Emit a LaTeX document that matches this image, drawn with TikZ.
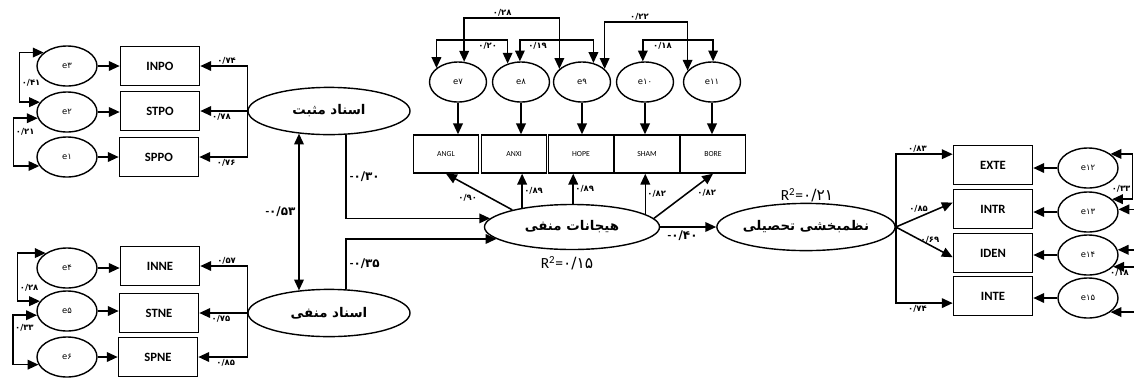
\documentclass[tikz,border=0pt]{standalone}
\usepackage{fontspec}
\setmainfont{Carlito}
\newfontfamily\fa[Script=Arabic]{DejaVu Sans}
\TeXXeTstate=1
\usetikzlibrary{arrows.meta,shapes.geometric}
\newcommand\mns{{\normalfont\bfseries -}}

\begin{document}
\begin{tikzpicture}[
    x=0.025cm, y=-0.025cm,
    effect/.style={-{Triangle[length=2.7mm,width=2.4mm]}, line width=1.1pt},
    corr/.style={{Triangle[length=2.7mm,width=2.4mm]}-{Triangle[length=2.7mm,width=2.4mm]}, line width=1.1pt},
    err/.style={ellipse, draw, line width=1pt, minimum width=1.5cm, minimum height=1cm, inner sep=0pt, font=\fa\fontsize{6}{7}\selectfont},
    toperr/.style={err, minimum width=1.425cm},
    ind/.style={rectangle, draw, line width=1pt, minimum width=1.98cm, minimum height=0.98cm, font=\bfseries\fontsize{9}{10}\selectfont},
    emoind/.style={rectangle, draw, line width=1pt, minimum width=1.62cm, minimum height=0.95cm, font=\fontsize{5.5}{6}\selectfont},
    latent/.style={ellipse, draw, line width=1pt, minimum width=4.05cm, minimum height=1.18cm, inner sep=0pt, font=\fa\bfseries\fontsize{9.5}{11}\selectfont},
    coef/.style={font=\fa\bfseries\fontsize{6}{7}\selectfont, inner sep=1pt},
    pathcoef/.style={font=\fa\bfseries\fontsize{8.5}{10}\selectfont, inner sep=2pt},
    rsq/.style={font=\fontsize{11}{12}\selectfont, inner sep=0pt}
]
\useasboundingbox (0,0) rectangle (1134,378);
\coordinate (edge) at (1134,0);

\node[err] (e3) at (67,66) {e۳};
\node[err] (e2) at (67,112) {e۲};
\node[err] (e1) at (67,157) {e۱};
\node[ind] (inpo) at (160,66) {INPO};
\node[ind] (stpo) at (160,111) {STPO};
\node[ind] (sppo) at (159,157) {SPPO};

\node[err] (e4) at (67,268) {e۴};
\node[err] (e5) at (67,311) {e۵};
\node[err] (e6) at (67,357) {e۶};
\node[ind] (inne) at (160,266) {INNE};
\node[ind] (stne) at (159,313) {STNE};
\node[ind] (spne) at (158,357) {SPNE};

\node[latent] (attpos) at (329,111) {\beginR اسناد مثبت\endR};
\node[latent] (attneg) at (329,313) {\beginR اسناد منفی\endR};
\node[latent, minimum width=4.375cm, minimum height=1.125cm] (emo) at (572,227) {\beginR هیجانات منفی\endR};
\node[latent, minimum width=4.425cm] (reg) at (806,227) {\beginR نظمبخشی تحصیلی\endR};

\node[toperr] (e7) at (458,82) {e۷};
\node[toperr] (e8) at (521,82) {e۸};
\node[toperr] (e9) at (582,82) {e۹};
\node[toperr] (e10) at (645,82) {e۱۰};
\node[toperr] (e11) at (712,82) {e۱۱};
\node[emoind] (angl) at (446,154) {ANGL};
\node[emoind] (anxi) at (514,154) {ANXI};
\node[emoind] (hope) at (581,154) {HOPE};
\node[emoind] (sham) at (647,154) {SHAM};
\node[emoind] (bore) at (713,154) {BORE};

\node[ind] (exte) at (993,165) {EXTE};
\node[ind] (intr) at (993,209) {INTR};
\node[ind] (iden) at (993,253) {IDEN};
\node[ind] (inte) at (993,296) {INTE};
\node[err] (e12) at (1088,168) {e۱۲};
\node[err] (e13) at (1088,212) {e۱۳};
\node[err] (e14) at (1088,255) {e۱۴};
\node[err] (e15) at (1088,298) {e۱۵};

\node[rsq] (r2emo) at (567,263) {R\textsuperscript{2}={\fa ۰/۱۵}};
\node[rsq] (r2reg) at (807,195) {R\textsuperscript{2}={\fa ۰/۲۱}};

\draw[effect] (e3) -- (inpo);
\draw[effect] (e2) -- (e2 -| stpo.west);
\draw[effect] (e1) -- (e1 -| sppo.west);
\draw[effect] (e4) -- (e4 -| inne.west);
\draw[effect] (e5) -- (e5 -| stne.west);
\draw[effect] (e6) -- (e6 -| spne.west);

\draw[corr] (e3.150) -- ++(-24,0) |- node[coef, pos=0.31, right] {۰/۴۱} (e2.160);
\draw[corr] (e2.192) -- ++(-24,0) |- node[coef, pos=0.14, right] {۰/۲۱} (e1.198);
\draw[corr] (e4.145) -- ++(-28,0) |- node[coef, pos=0.36, right] {۰/۲۸} (e5.160);
\draw[corr] (e5.188) -- ++(-24,0) |- node[coef, pos=0.13, right] {۰/۳۳} (e6.195);

\draw[effect] (attpos.west) |- node[coef, pos=0.72, above] {۰/۷۴} (inpo.east);
\draw[effect] (attpos.west) -- node[coef, pos=0.55, below] {۰/۷۸} (stpo.east);
\draw[effect] (attpos.west) |- node[coef, pos=0.72, below] {۰/۷۶} (sppo.east);
\draw[effect] (attneg.west) |- node[coef, pos=0.72, above] {۰/۵۷} (inne.east);
\draw[effect] (attneg.west) -- node[coef, pos=0.55, below] {۰/۷۵} (stne.east);
\draw[effect] (attneg.west) |- node[coef, pos=0.72, below] {۰/۸۵} (spne.east);

\draw[corr] (attpos.217) -- node[pathcoef, left] {\mns۰/۵۳} (attneg.143);
\draw[effect] (attpos.306) |- node[pathcoef, pos=0.25, right] {\mns۰/۳۰} (emo.174);
\draw[effect] (attneg.54) |- node[pathcoef, pos=0.25, right] {\mns۰/۳۵} (emo.189);
\draw[effect] (emo.east) -- node[pathcoef, pos=0.4, below] {\mns۰/۴۰} (reg.west);

\draw[effect] (emo.164) -- node[coef, pos=0.5, anchor=north east] {۰/۹۰} (angl.south);
\draw[effect] (emo.159) -- node[coef, pos=0.5, right] {۰/۸۹} (emo.159 |- anxi.south);
\draw[effect] (emo.87) -- node[coef, pos=0.5, right] {۰/۸۹} (emo.87 |- hope.south);
\draw[effect] (emo.10) -- node[coef, pos=0.5, right] {۰/۸۲} (emo.10 |- sham.south);
\draw[effect] (emo.6) -- node[coef, pos=0.7, anchor=north west] {۰/۸۲} (bore.south);

\draw[effect] (e7) -- (e7 |- angl.north);
\draw[effect] (e8) -- (e8 |- anxi.north);
\draw[effect] (e9) -- (e9 |- hope.north);
\draw[effect] (e10) -- (e10 |- sham.north);
\draw[effect] (e11) -- (e11 |- bore.north);

\draw[corr] (e7.73) -- (e7.73 |- 0,18) -| node[coef, pos=0.2, above] {۰/۲۸} (e9.150);
\draw[corr] (e7.147) -- (e7.147 |- 0,40) -| node[coef, pos=0.36, below] {۰/۲۰} (e8.126);
\draw[corr] (e8.93) -- (e8.93 |- 0,40) -| node[coef, pos=0.12, below] {۰/۱۹} (e9.59);
\draw[corr] (e9.30) -- (e9.30 |- 0,22) -| node[coef, pos=0.21, above] {۰/۲۲} (e11.155);
\draw[corr] (e10.96) -- (e10.96 |- 0,40) -| node[coef, pos=0.14, below] {۰/۱۸} (e11.87);

\draw[effect] (reg.east) |- node[coef, pos=0.69, above] {۰/۸۳} (exte.165);
\draw[effect] (reg.east) -- node[coef, pos=0.4, above=2pt] {۰/۸۵} (intr.171);
\draw[effect] (reg.east) -- node[coef, pos=0.6, above] {۰/۶۹} (iden.186);
\draw[effect] (reg.east) |- node[coef, pos=0.69, below] {۰/۷۴} (inte.190);

\draw[effect] (e12) -- (e12 -| exte.east);
\draw[effect] (e13) -- (e13 -| intr.east);
\draw[effect] (e14) -- (e14 -| iden.east);
\draw[effect] (e15) -- (e15 -| inte.east);

\draw[corr] (e12.32) -- ++(22,0) |- node[coef, pos=0.38, left] {۰/۳۳} (e13.28);
\draw[effect] (e13.5 -| edge) -- (e13.5);
\draw[effect] (e14.10 -| edge) -- (e14.10);
\draw[effect] (e14.335 -| edge) -- node[coef, pos=0.5, below, xshift=-3] {۰/۱۸} (e14.335);
\draw[effect] (e15.328 -| edge) -- (e15.328);

\end{tikzpicture}
\end{document}
